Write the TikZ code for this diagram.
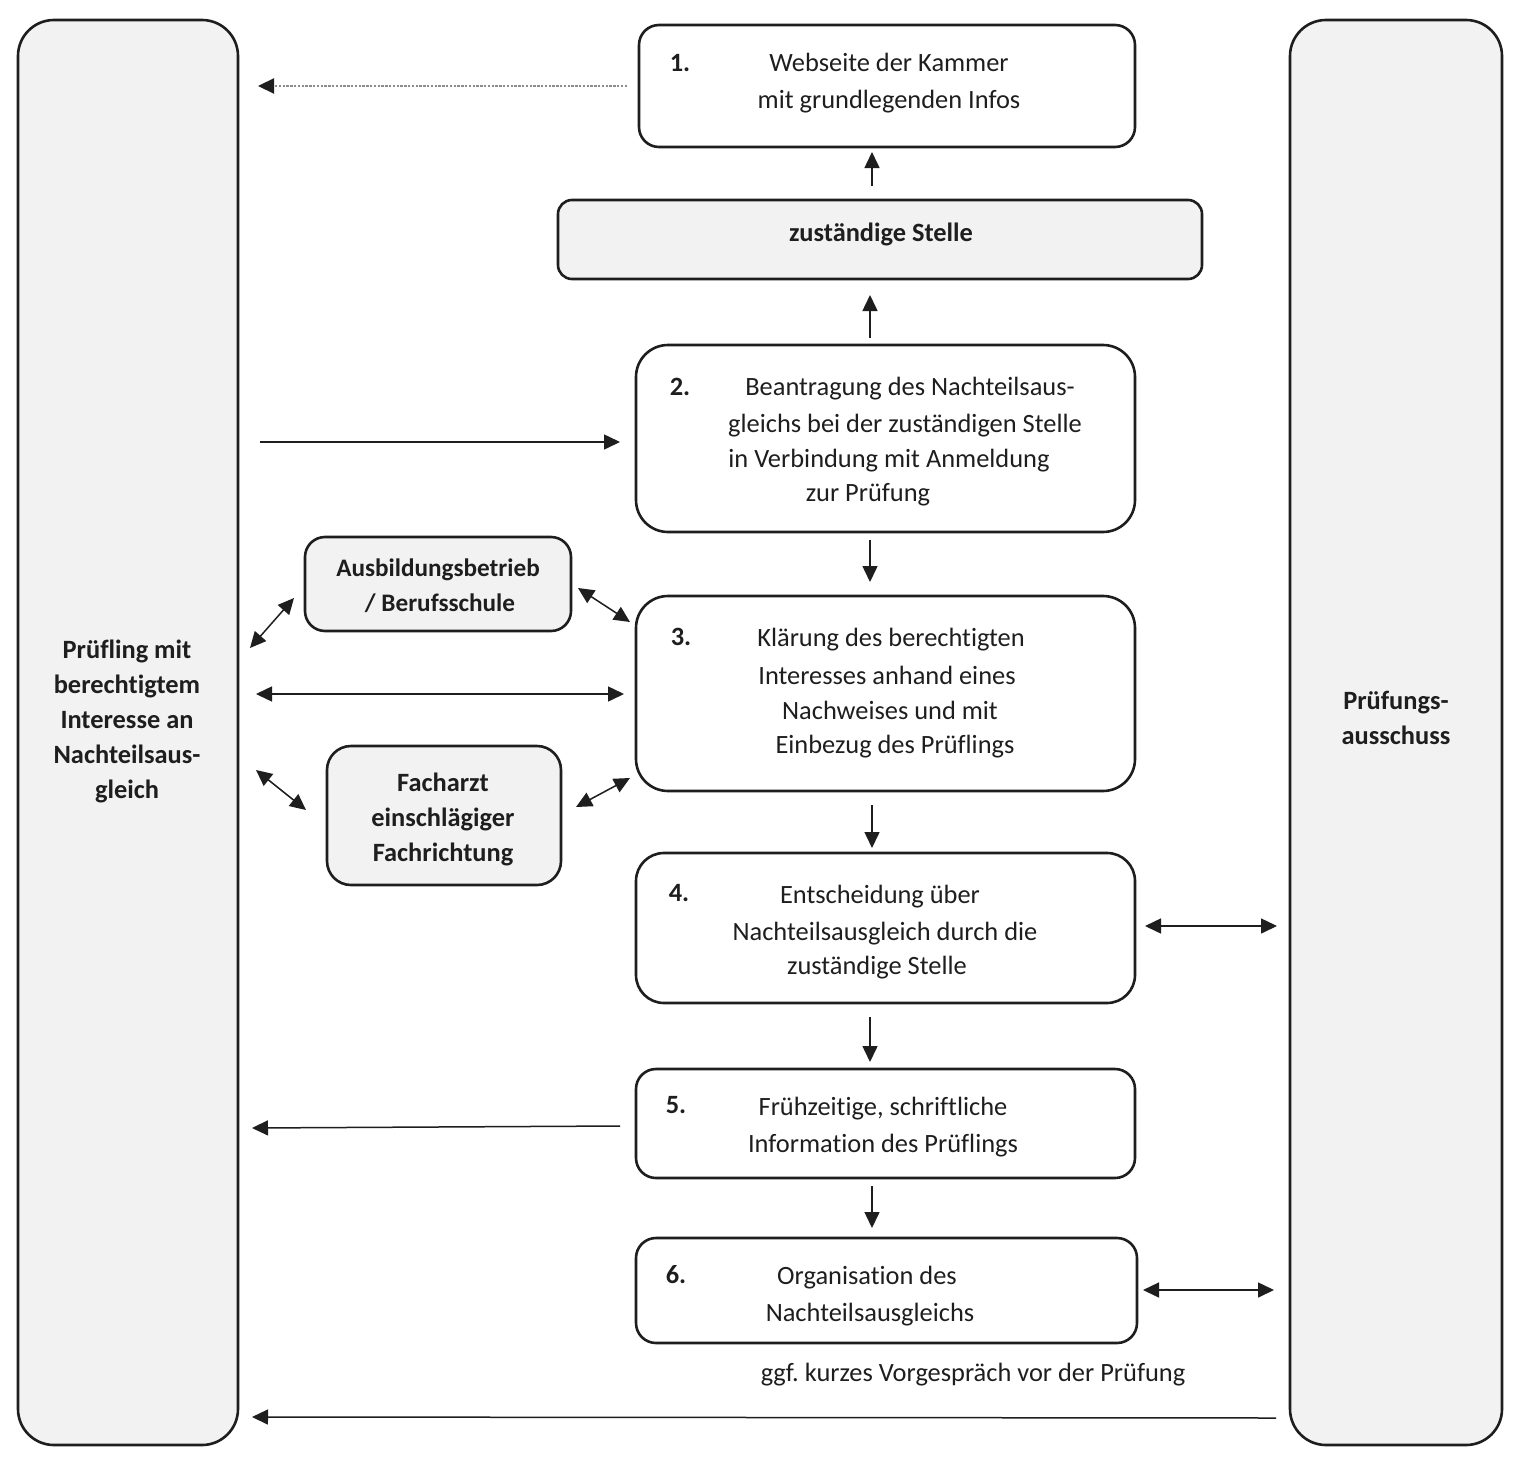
\documentclass[tikz,border=0pt]{standalone}
\usepackage{fontspec}
\setmainfont{Carlito}[Ligatures=NoCommon]
\usetikzlibrary{arrows.meta,fit}
\definecolor{boxgray}{HTML}{F2F2F2}
\definecolor{ink}{HTML}{1E1E1E}
\frenchspacing
\begin{document}
\begin{tikzpicture}[x=0.5pt,y=-0.5pt,
  frame/.style={draw=ink, line width=1.3pt, inner sep=0pt},
  graybox/.style={frame, fill=boxgray},
  whitebox/.style={frame, fill=white},
  txt/.style={anchor=base, inner sep=0pt, text=ink, font=\fontsize{13.2}{18}\selectfont},
  btxt/.style={anchor=base, inner sep=0pt, text=ink, font=\fontsize{13.2}{18}\selectfont\bfseries},
  arr/.style={-{Triangle[length=8pt,width=7.5pt]}, line width=0.75pt, draw=ink},
  darr/.style={{Triangle[length=8pt,width=7.5pt]}-{Triangle[length=8pt,width=7.5pt]}, line width=0.75pt, draw=ink},
  dotarr/.style={-{Triangle[length=8pt,width=7.5pt,color=ink]}, line width=1.1pt, draw=gray!90, dash pattern=on 1.2pt off 0.7pt}
]
\useasboundingbox (0,0) rectangle (1520,1461);
\fill[white] (0,0) rectangle (1520,1461);

% side columns
\node[graybox, rounded corners=18pt, fit={(18,20) (238,1445)}] (pruefling) {};
\node[graybox, rounded corners=18pt, fit={(1290,20) (1502,1445)}] (ausschuss) {};

% main boxes
\node[whitebox, rounded corners=10pt, fit={(639,25) (1135,147)}] (b1) {};
\node[graybox, rounded corners=7pt, fit={(558,200) (1202,279)}] (zs) {};
\node[whitebox, rounded corners=16pt, fit={(636,345) (1135,532)}] (b2) {};
\node[whitebox, rounded corners=16pt, fit={(636,596) (1135,791)}] (b3) {};
\node[whitebox, rounded corners=14pt, fit={(636,853) (1135,1003)}] (b4) {};
\node[whitebox, rounded corners=10pt, fit={(636,1069) (1135,1178)}] (b5) {};
\node[whitebox, rounded corners=10pt, fit={(636,1238) (1137,1343)}] (b6) {};
\node[graybox, rounded corners=10pt, fit={(305,537) (571,631)}] (ausb) {};
\node[graybox, rounded corners=12pt, fit={(327,746) (561,885)}] (arzt) {};

% texts
\node[btxt] (n1) at (680,72) {1.};
\node[txt] (t1a) at (889,72) {Webseite der Kammer};
\node[txt] (t1b) at (889,109) {mit grundlegenden Infos};

\node[btxt] (tzs) at (881,241) {zuständige Stelle};

\node[btxt] (n2) at (680,395) {2.};
\node[txt] (t2a) at (910,395) {Beantragung des Nachteilsaus-};
\node[txt] (t2b) at (905,432) {gleichs bei der zuständigen Stelle};
\node[txt] (t2c) at (889,467) {in Verbindung mit Anmeldung};
\node[txt] (t2d) at (868,501) {zur Prüfung};

\node[btxt] (n3) at (681,645) {3.};
\node[txt] (t3a) at (891,646) {Klärung des berechtigten};
\node[txt] (t3b) at (887,684) {Interesses anhand eines};
\node[txt] (t3c) at (890,719) {Nachweises und mit};
\node[txt] (t3d) at (895,753) {Einbezug des Prüflings};

\node[btxt] (n4) at (679,901) {4.};
\node[txt] (t4a) at (880,903) {Entscheidung über};
\node[txt] (t4b) at (885,940) {Nachteilsausgleich durch die};
\node[txt] (t4c) at (877,974) {zuständige Stelle};

\node[btxt] (n5) at (676,1113) {5.};
\node[txt] (t5a) at (883,1115) {Frühzeitige, schriftliche};
\node[txt] (t5b) at (883,1152) {Information des Prüflings};

\node[btxt] (n6) at (676,1283) {6.};
\node[txt] (t6a) at (867,1284) {Organisation des};
\node[txt] (t6b) at (870,1321) {Nachteilsausgleichs};

\node[btxt, font=\fontsize{12.6}{18}\selectfont\bfseries] (ta1) at (438,576) {Ausbildungsbetrieb};
\node[btxt, font=\fontsize{12.6}{18}\selectfont\bfseries] (ta2) at (440,611) {/ Berufsschule};

\node[btxt] (tf1) at (443,791) {Facharzt};
\node[btxt] (tf2) at (443,826) {einschlägiger};
\node[btxt] (tf3) at (443,861) {Fachrichtung};

\node[btxt] (tp1) at (127,658) {Prüfling mit};
\node[btxt] (tp2) at (127,693) {berechtigtem};
\node[btxt] (tp3) at (127,728) {Interesse an};
\node[btxt] (tp4) at (127,763) {Nachteilsaus-};
\node[btxt] (tp5) at (127,798) {gleich};

\node[btxt] (tr1) at (1396,709) {Prüfungs-};
\node[btxt] (tr2) at (1396,744) {ausschuss};

\node[txt] (tv) at (973,1381) {ggf. kurzes Vorgespräch vor der Prüfung};

% connector end points
\coordinate (d1s) at (627,86);   \coordinate (d1e) at (258,86);
\coordinate (u1s) at (872,186);  \coordinate (u1e) at (872,152);
\coordinate (u2s) at (870,338);  \coordinate (u2e) at (870,295);
\coordinate (r2s) at (260,442);  \coordinate (r2e) at (620,442);
\coordinate (v23s) at (870,540); \coordinate (v23e) at (870,582);
\coordinate (aL1) at (250,648);  \coordinate (aL2) at (294,598);
\coordinate (aR1) at (578,588);  \coordinate (aR2) at (630,622);
\coordinate (h3a) at (256,694);  \coordinate (h3b) at (624,694);
\coordinate (fL1) at (256,770);  \coordinate (fL2) at (306,810);
\coordinate (fR1) at (576,807);  \coordinate (fR2) at (630,778);
\coordinate (v34s) at (872,805); \coordinate (v34e) at (872,848);
\coordinate (h4a) at (1145,926); \coordinate (h4b) at (1277,926);
\coordinate (v45s) at (870,1017); \coordinate (v45e) at (870,1062);
\coordinate (l5s) at (620,1126); \coordinate (l5e) at (252,1128);
\coordinate (v56s) at (872,1186); \coordinate (v56e) at (872,1228);
\coordinate (h6a) at (1143,1290); \coordinate (h6b) at (1274,1290);
\coordinate (bs) at (1276,1418); \coordinate (be) at (252,1417);

% connectors
\draw[dotarr] (d1s) -- (d1e);
\draw[arr] (u1s) -- (u1e);
\draw[arr] (u2s) -- (u2e);
\draw[arr] (r2s) -- (r2e);
\draw[arr] (v23s) -- (v23e);
\draw[darr] (aL1) -- (aL2);
\draw[darr] (aR1) -- (aR2);
\draw[darr] (h3a) -- (h3b);
\draw[darr] (fL1) -- (fL2);
\draw[darr] (fR1) -- (fR2);
\draw[arr] (v34s) -- (v34e);
\draw[darr] (h4a) -- (h4b);
\draw[arr] (v45s) -- (v45e);
\draw[arr] (l5s) -- (l5e);
\draw[arr] (v56s) -- (v56e);
\draw[darr] (h6a) -- (h6b);
\draw[arr] (bs) -- (be);
\end{tikzpicture}
\end{document}
